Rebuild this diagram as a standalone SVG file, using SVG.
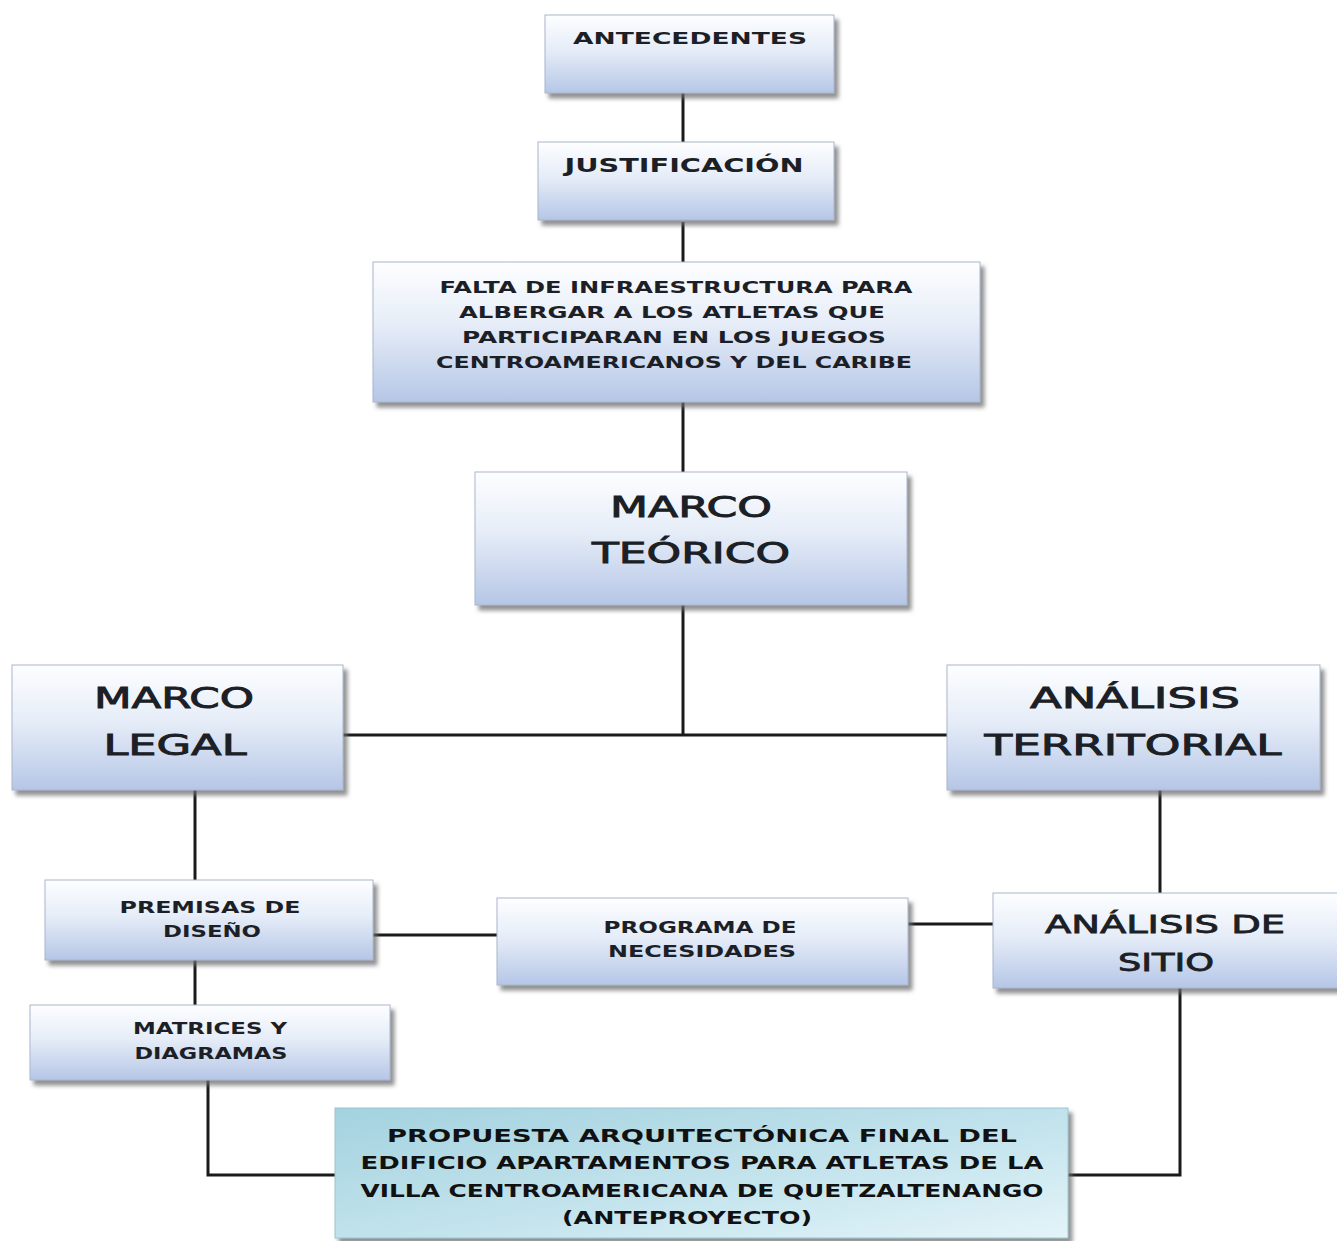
<svg xmlns="http://www.w3.org/2000/svg" width="1337" height="1241" viewBox="0 0 1337 1241">
<defs>
<linearGradient id="gBlue" x1="0" y1="0" x2="0" y2="1">
<stop offset="0" stop-color="#fdfeff"/>
<stop offset="0.45" stop-color="#e6edf8"/>
<stop offset="1" stop-color="#b5c6e6"/>
</linearGradient>
<linearGradient id="gTeal" x1="0" y1="0" x2="1" y2="1">
<stop offset="0" stop-color="#a3d2df"/>
<stop offset="0.6" stop-color="#c6e5ee"/>
<stop offset="1" stop-color="#e4f4f8"/>
</linearGradient>
<filter id="sh" x="-5%" y="-5%" width="115%" height="125%">
<feDropShadow dx="4" dy="5" stdDeviation="2" flood-color="#6b6b6b" flood-opacity="0.75"/>
</filter>
</defs>
<style>
.box{fill:url(#gBlue);stroke:#a9b6cc;stroke-width:1;filter:url(#sh)}
.fin{fill:url(#gTeal);stroke:#9cc4d0;stroke-width:1;filter:url(#sh)}
.c{stroke:#1a1a1a;stroke-width:3;fill:none}
text{font-family:"DejaVu Sans","Liberation Sans",sans-serif;fill:#1c1f26;text-anchor:middle}
.s{font-size:15px;font-weight:bold}
.m{font-size:20px;font-weight:bold}
.a{font-size:24px;stroke:#1c1f26;stroke-width:0.8}
.l{font-size:28px;stroke:#1c1f26;stroke-width:0.9}
.f{font-size:18px;font-weight:bold;fill:#111}
</style>
<rect width="1337" height="1241" fill="#ffffff"/>
<g id="connectors">
<line class="c" x1="683" y1="93" x2="683" y2="142"/>
<line class="c" x1="683" y1="222" x2="683" y2="262"/>
<line class="c" x1="683" y1="402" x2="683" y2="472"/>
<line class="c" x1="683" y1="605" x2="683" y2="735"/>
<line class="c" x1="343" y1="735" x2="947" y2="735"/>
<line class="c" x1="195" y1="790" x2="195" y2="880"/>
<line class="c" x1="195" y1="960" x2="195" y2="1005"/>
<polyline class="c" points="208,1080 208,1175 335,1175"/>
<line class="c" x1="373" y1="935" x2="497" y2="935"/>
<line class="c" x1="908" y1="924" x2="993" y2="924"/>
<line class="c" x1="1160" y1="790" x2="1160" y2="893"/>
<polyline class="c" points="1180,988 1180,1175 1068,1175"/>
</g>
<g id="antecedentes">
<rect class="box" x="545" y="15" width="289" height="78"/>
<text class="s" x="690" y="44" textLength="234" lengthAdjust="spacingAndGlyphs">ANTECEDENTES</text>
</g>
<g id="justificacion">
<rect class="box" x="538" y="142" width="296" height="78"/>
<text class="m" x="684" y="172" textLength="239" lengthAdjust="spacingAndGlyphs">JUSTIFICACIÓN</text>
</g>
<g id="falta">
<rect class="box" x="373" y="262" width="607" height="140"/>
<text class="s" x="676" y="293" textLength="473" lengthAdjust="spacingAndGlyphs">FALTA DE INFRAESTRUCTURA  PARA</text>
<text class="s" x="672" y="318" textLength="426" lengthAdjust="spacingAndGlyphs">ALBERGAR A LOS ATLETAS QUE</text>
<text class="s" x="674" y="343" textLength="424" lengthAdjust="spacingAndGlyphs">PARTICIPARAN  EN LOS JUEGOS</text>
<text class="s" x="674" y="368" textLength="476" lengthAdjust="spacingAndGlyphs">CENTROAMERICANOS  Y DEL CARIBE</text>
</g>
<g id="marco-teorico">
<rect class="box" x="475" y="472" width="432" height="133"/>
<text class="l" x="691" y="517" textLength="162" lengthAdjust="spacingAndGlyphs">MARCO</text>
<text class="l" x="691" y="563" textLength="198" lengthAdjust="spacingAndGlyphs">TEÓRICO</text>
</g>
<g id="marco-legal">
<rect class="box" x="12" y="665" width="331" height="125"/>
<text class="l" x="174" y="708" textLength="160" lengthAdjust="spacingAndGlyphs">MARCO</text>
<text class="l" x="175" y="755" textLength="143" lengthAdjust="spacingAndGlyphs">LEGAL</text>
</g>
<g id="analisis-territorial">
<rect class="box" x="947" y="665" width="373" height="125"/>
<text class="l" x="1135" y="708" textLength="210" lengthAdjust="spacingAndGlyphs">ANÁLISIS</text>
<text class="l" x="1133" y="755" textLength="297" lengthAdjust="spacingAndGlyphs">TERRITORIAL</text>
</g>
<g id="premisas">
<rect class="box" x="45" y="880" width="328" height="80"/>
<text class="s" x="210" y="913" textLength="181" lengthAdjust="spacingAndGlyphs">PREMISAS DE</text>
<text class="s" x="212" y="937" textLength="98" lengthAdjust="spacingAndGlyphs">DISEÑO</text>
</g>
<g id="matrices">
<rect class="box" x="30" y="1005" width="360" height="75"/>
<text class="s" x="210" y="1034" textLength="154" lengthAdjust="spacingAndGlyphs">MATRICES Y</text>
<text class="s" x="211" y="1059" textLength="153" lengthAdjust="spacingAndGlyphs">DIAGRAMAS</text>
</g>
<g id="programa">
<rect class="box" x="497" y="898" width="411" height="87"/>
<text class="s" x="700" y="933" textLength="193" lengthAdjust="spacingAndGlyphs">PROGRAMA DE</text>
<text class="s" x="702" y="957" textLength="188" lengthAdjust="spacingAndGlyphs">NECESIDADES</text>
</g>
<g id="analisis-sitio">
<rect class="box" x="993" y="893" width="350" height="95"/>
<text class="a" x="1165" y="933" textLength="240" lengthAdjust="spacingAndGlyphs">ANÁLISIS DE</text>
<text class="a" x="1166" y="971" textLength="96" lengthAdjust="spacingAndGlyphs">SITIO</text>
</g>
<g id="propuesta">
<rect class="fin" x="335" y="1108" width="733" height="130"/>
<text class="f" x="702" y="1142" textLength="630" lengthAdjust="spacingAndGlyphs">PROPUESTA ARQUITECTÓNICA FINAL DEL</text>
<text class="f" x="702" y="1169" textLength="683" lengthAdjust="spacingAndGlyphs">EDIFICIO APARTAMENTOS PARA ATLETAS DE LA</text>
<text class="f" x="702" y="1197" textLength="683" lengthAdjust="spacingAndGlyphs">VILLA CENTROAMERICANA DE QUETZALTENANGO</text>
<text class="f" x="687" y="1224" textLength="250" lengthAdjust="spacingAndGlyphs">(ANTEPROYECTO)</text>
</g>
</svg>
